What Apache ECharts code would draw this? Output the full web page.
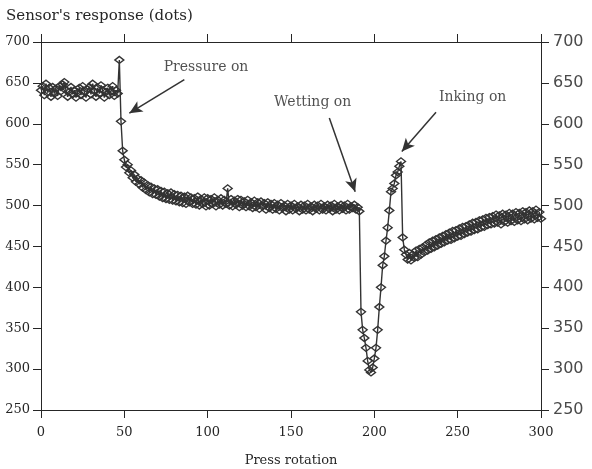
<!DOCTYPE html>
<html>
<head>
<meta charset="utf-8">
<script src="https://cdn.jsdelivr.net/npm/echarts@6/dist/echarts.min.js"></script>
<style>
  html, body { margin: 0; padding: 0; background: #fff; }
  #chart { width: 592px; height: 469px; }
</style>
</head>
<body>
<div id="chart"></div>
<script>
// sensor response per press rotation
// rotations 0-46: before pressure
const baseline = [
  641, 646, 635, 649, 638, 644, 633, 645, 637, 643,
  634, 646, 640, 648, 651, 641, 633, 639, 645, 636,
  641, 632, 638, 644, 635, 646, 639, 632, 642, 645,
  636, 649, 640, 633, 644, 637, 647, 641, 632, 639,
  644, 635, 640, 646, 634, 641, 637
];
// rotations 47-191: pressure on
const pressure = [
  678, 603, 567,
  556, 547, 550, 540, 543, 534, 538, 529, 533, 526,
  531, 522, 528, 519, 525, 516, 523, 514, 521, 513,
  520, 511, 518, 509, 517, 508, 515, 507, 516, 506,
  514, 505, 513, 504, 512, 503, 511, 502, 512, 504,
  510, 502, 509, 501, 511, 500, 508, 502, 510, 499,
  509, 500, 508, 502, 510, 499, 507, 501, 509, 500,
  507, 502, 521, 500, 508, 499, 506, 501, 508, 498,
  507, 500, 505, 498, 507, 499, 504, 497, 506, 498,
  504, 496, 505, 499, 503, 495, 504, 497, 502, 495,
  503, 496, 501, 494, 503, 497, 500, 493, 502, 495,
  500, 494, 502, 496, 499, 493, 501, 495, 500, 494,
  502, 495, 499, 493, 501, 496, 500, 494, 502, 495,
  499, 494, 501, 496, 500, 493, 502, 495, 499, 494,
  501, 496, 500, 494, 502, 495, 499, 497, 501, 495,
  498, 493
];
// rotations 192-216: wetting on
const wetting = [
  370, 348, 338, 326, 310, 299, 296, 302, 313, 326,
  348, 376, 400, 427, 438, 457, 473, 494, 517, 521,
  527, 537, 541, 548, 554
];
// rotations 217-300: inking on
const inking = [
  461, 446, 440, 434, 442, 433, 440, 436, 445, 437, 447, 440, 449,
  443, 452, 445, 455, 447, 457, 449, 459, 451, 461,
  453, 463, 455, 465, 457, 467, 458, 469, 460, 470,
  462, 472, 463, 474, 465, 475, 467, 477, 468, 479,
  470, 480, 471, 482, 473, 483, 474, 485, 476, 486,
  477, 487, 478, 489, 479, 488, 477, 490, 480, 489,
  479, 491, 481, 490, 480, 492, 482, 491, 481, 493,
  483, 492, 482, 494, 484, 493, 483, 495, 485, 492, 484
];

const yTicks = [250, 300, 350, 400, 450, 500, 550, 600, 650, 700];
const xTicks = [0, 50, 100, 150, 200, 250, 300];

// annotations: label position and arrow [from, to] in data units
const notes = [
  { text: 'Pressure on', at: [99, 669], from: [86, 654], to: [53, 613] },
  { text: 'Wetting on', at: [163, 626], from: [173, 607], to: [188.5, 517] },
  { text: 'Inking on', at: [259, 632], from: [237, 614], to: [216.5, 566] }
];

const response = baseline.concat(pressure, wetting, inking);
const points = response.map((v, i) => [i, v]);

const serif = '"DejaVu Serif", "Liberation Serif", serif';
const ink = '#262626';

const chart = echarts.init(document.getElementById('chart'));

const xBase = {
  type: 'value',
  min: xTicks[0],
  max: xTicks[xTicks.length - 1],
  interval: 50,
  splitLine: { show: false },
  axisLine: { show: true, onZero: false, lineStyle: { color: ink, width: 1 } },
  axisTick: { show: true, inside: false, length: 8, lineStyle: { color: ink, width: 1 } }
};
const yBase = {
  type: 'value',
  min: yTicks[0],
  max: yTicks[yTicks.length - 1],
  interval: 50,
  splitLine: { show: false },
  axisLine: { show: true, onZero: false, lineStyle: { color: ink, width: 1 } },
  axisTick: { show: true, length: 8, lineStyle: { color: ink } }
};

chart.setOption({
  animation: false,
  backgroundColor: '#fff',
  title: {
    text: "Sensor's response (dots)",
    left: 1,
    top: 4,
    textStyle: { fontFamily: serif, fontSize: 15, fontWeight: 'normal', color: ink }
  },
  grid: {
    left: 41, right: 51, top: 42, bottom: 59,
    containLabel: false,
    outerBoundsMode: 'none'
  },
  xAxis: [
    Object.assign({}, xBase, {
      position: 'bottom',
      name: 'Press rotation',
      nameLocation: 'middle',
      nameGap: 44,
      nameTextStyle: { fontFamily: serif, fontSize: 13, color: ink },
      axisLabel: { margin: 16, fontFamily: serif, fontSize: 13, color: ink }
    }),
    Object.assign({}, xBase, {
      position: 'top',
      axisLabel: { show: true, formatter: () => '' }
    })
  ],
  yAxis: [
    Object.assign({}, yBase, {
      position: 'left',
      axisLabel: { margin: 11, fontFamily: serif, fontSize: 13, color: ink }
    }),
    Object.assign({}, yBase, {
      position: 'right',
      axisLabel: {
        margin: 12,
        fontFamily: '"DejaVu Sans", sans-serif',
        fontSize: 16,
        color: '#4a4a4a'
      }
    })
  ],
  series: [
    {
      type: 'line',
      data: points,
      xAxisIndex: 0,
      yAxisIndex: 0,
      symbol: 'diamond',
      symbolSize: [9, 7],
      showAllSymbol: true,
      lineStyle: { color: '#333', width: 1.4 },
      itemStyle: { color: 'rgba(255,255,255,0)', borderColor: '#333', borderWidth: 1.4 },
      emphasis: { disabled: true },
      z: 3,
      markLine: {
        silent: true,
        symbol: ['none', 'arrow'],
        symbolSize: [9, 13],
        label: { show: false },
        lineStyle: { color: '#333', width: 1.5, type: 'solid' },
        data: notes.map(n => [{ coord: n.from }, { coord: n.to }])
      }
    },
    {
      // annotation labels, on the top/right axes (same scales)
      type: 'scatter',
      xAxisIndex: 1,
      yAxisIndex: 1,
      data: notes.map(n => ({ value: n.at, name: n.text })),
      symbolSize: 0,
      silent: true,
      label: {
        show: true,
        position: 'inside',
        formatter: p => p.name,
        fontFamily: serif,
        fontSize: 14,
        color: ink
      }
    }
  ]
});
</script>
</body>
</html>
